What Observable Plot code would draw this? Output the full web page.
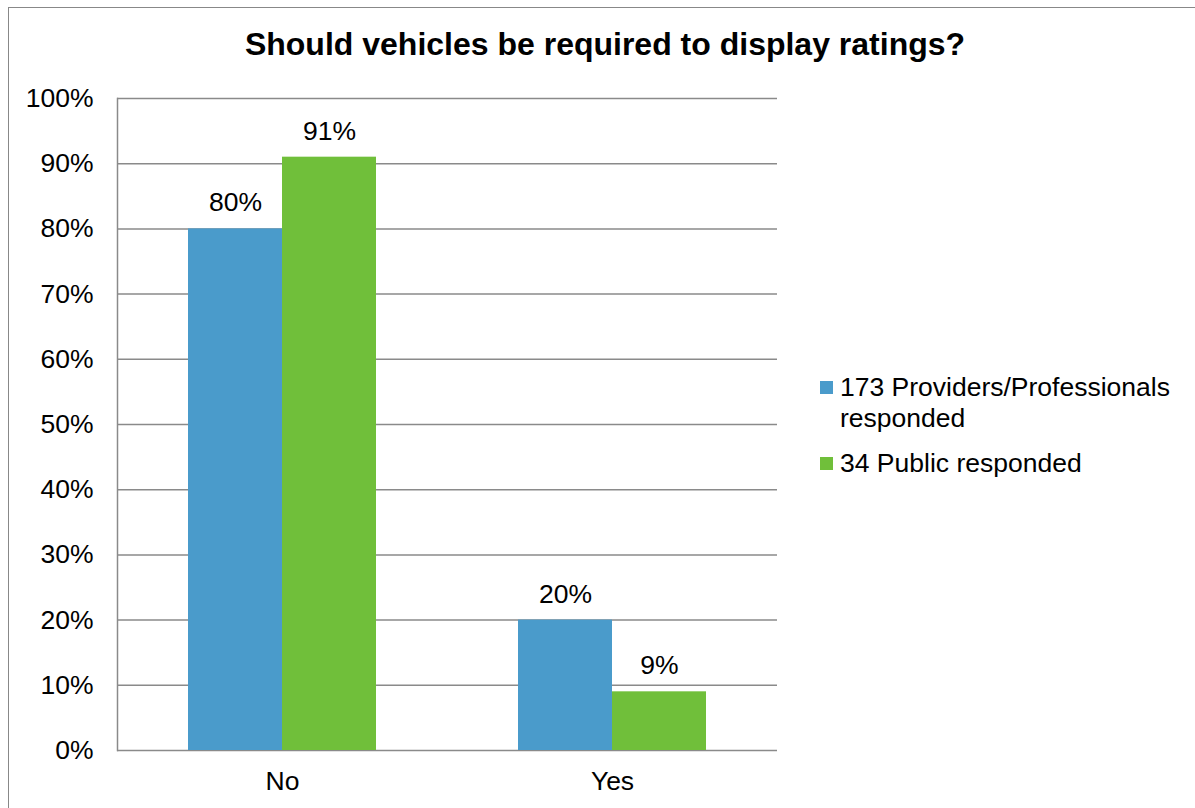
<!DOCTYPE html>
<html>
<head>
<meta charset="utf-8">
<script src="https://cdn.jsdelivr.net/npm/d3@7"></script>
<script src="https://cdn.jsdelivr.net/npm/@observablehq/plot@0.6"></script>
<style>
  html, body { margin: 0; padding: 0; background: #fff; }
  body { width: 1195px; height: 808px; position: relative; overflow: hidden; font-family: "Liberation Sans", Arial, sans-serif; }
  #frame { position: absolute; left: 8px; top: 7px; width: 1300px; height: 900px; border: 1.5px solid #888; box-sizing: border-box; }
  #chart { position: absolute; left: 0; top: 0; }
  #title { position: absolute; left: 0; width: 1210px; top: 26px; text-align: center; font-weight: bold; font-size: 32px; color: #000; }
  #legend { position: absolute; left: 820px; top: 372px; font-size: 26.5px; color: #000; line-height: 31px; }
  .item { position: relative; padding-left: 20px; margin-bottom: 14px; }
  .sw { position: absolute; left: 0; top: 9px; width: 13px; height: 13px; }
</style>
</head>
<body>
<div id="frame"></div>
<div id="chart"></div>
<div id="title">Should vehicles be required to display ratings?</div>
<div id="legend"></div>
<script>
const categories = ["No", "Yes"];
const seriesNames = ["173 Providers/Professionals responded", "34 Public responded"];
const seriesColors = ["#4A9BCB", "#70BF3A"];
const providersValues = [0.80, 0.20];
const publicValues = [0.91, 0.09];
const yTicks = [0, 0.1, 0.2, 0.3, 0.4, 0.5, 0.6, 0.7, 0.8, 0.9, 1.0];

const table = [];
categories.forEach((c, i) => {
  table.push({category: c, series: seriesNames[0], value: providersValues[i]});
  table.push({category: c, series: seriesNames[1], value: publicValues[i]});
});
const pct = d => Math.round(d * 100) + "%";

const chart = Plot.plot({
  width: 1195,
  height: 808,
  marginLeft: 116,
  marginRight: 418,
  marginTop: 98,
  marginBottom: 58,
  style: {fontFamily: "'Liberation Sans', Arial, sans-serif", fontSize: "26.5px", color: "#000", background: "transparent"},
  fx: {domain: categories, padding: 0, label: null, axis: "bottom", tickSize: 0, tickPadding: 21},
  x: {domain: seriesNames, paddingInner: 0, paddingOuter: 0.755, axis: null},
  y: {domain: [0, 1], ticks: yTicks, tickFormat: pct, tickSize: 0, tickPadding: 24, label: null},
  color: {domain: seriesNames, range: seriesColors},
  marks: [
    Plot.ruleY(yTicks, {stroke: "#8a8a8a", strokeWidth: 1.5}),
    Plot.barY(table, {fx: "category", x: "series", y: "value", fill: "series"}),
    Plot.text(table, {fx: "category", x: "series", y: "value", text: d => pct(d.value), dy: -26, fontSize: 26.5, fill: "#000"}),
    Plot.frame({anchor: "left", stroke: "#8a8a8a", strokeWidth: 1.5, facetAnchor: "left"})
  ]
});
document.getElementById("chart").appendChild(chart);

const legend = document.getElementById("legend");
seriesNames.forEach((name, i) => {
  const item = document.createElement("div");
  item.className = "item";
  const sw = document.createElement("span");
  sw.className = "sw";
  sw.style.background = seriesColors[i];
  item.appendChild(sw);
  const label = document.createElement("span");
  label.innerHTML = i === 0 ? "173 Providers/Professionals<br>responded" : name;
  item.appendChild(label);
  legend.appendChild(item);
});
</script>
</body>
</html>
